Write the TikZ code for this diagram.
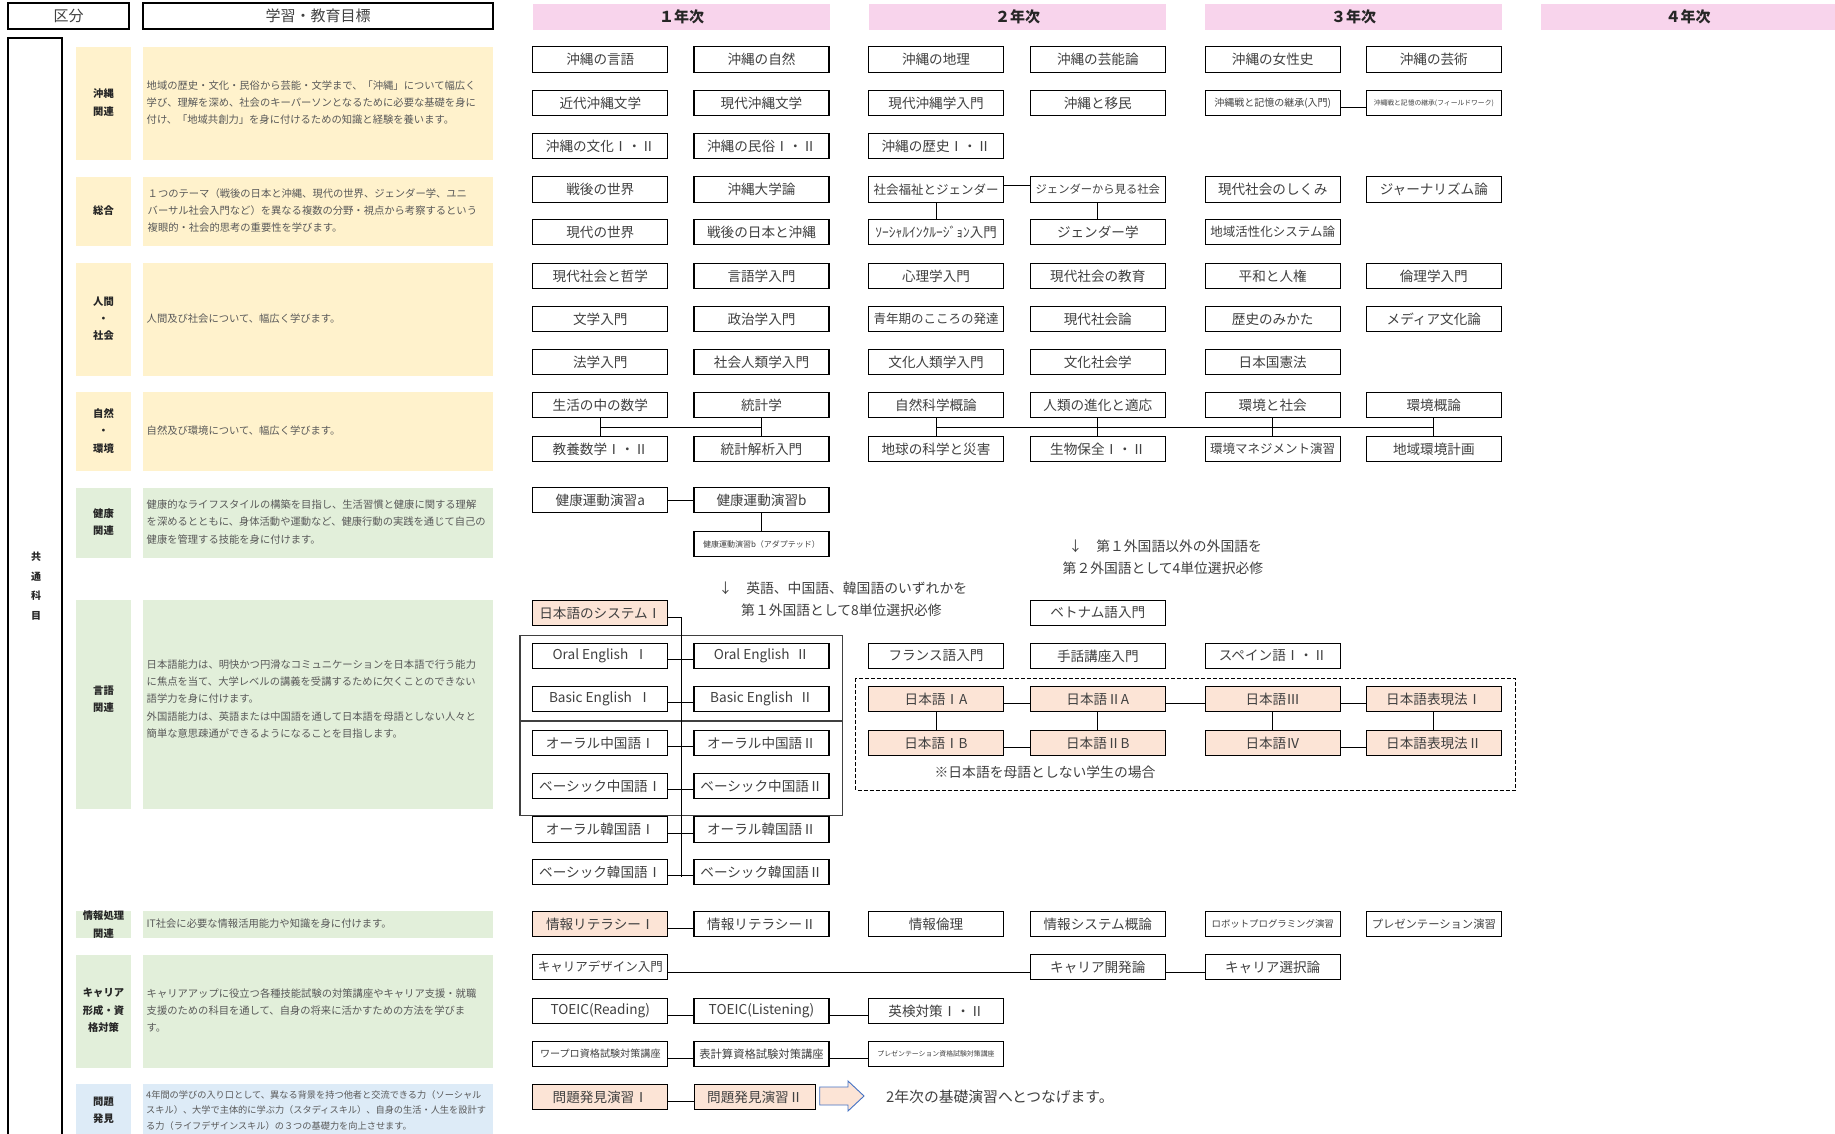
\documentclass[tikz,border=0pt]{standalone}
\usepackage{fontspec}
\setmainfont{Noto Sans CJK JP}
\usetikzlibrary{calc}
\definecolor{yel}{HTML}{FFF2CC}
\definecolor{grn}{HTML}{E2EFDA}
\definecolor{blu}{HTML}{DDEBF7}
\definecolor{pch}{HTML}{FCE4D6}
\definecolor{pnk}{RGB}{248,212,236}
\definecolor{txt}{HTML}{404040}
\definecolor{dtxt}{HTML}{595959}
\definecolor{lbl}{HTML}{262626}
\definecolor{arb}{HTML}{4472C4}
\begin{document}
\begin{tikzpicture}[x=1pt,y=-1pt,
  cb/.style={draw=black, line width=1.1pt, minimum width=135pt, minimum height=25.5pt, inner sep=0pt, text=txt, font=\fontsize{13.6}{15}\selectfont},
  fs/.style={font=\fontsize{#1}{#1}\selectfont},
  pc/.style={fill=pch},
  lk/.style={draw=black, line width=0.9pt},
  lab/.style={align=center, inner sep=0pt, text=lbl, font=\bfseries\fontsize{10.3}{17.3}\selectfont},
  desc/.style={anchor=west, align=left, inner sep=0pt, text=dtxt, font=\fontsize{10.3}{17.3}\selectfont},
  yr/.style={fill=pnk, minimum height=25.5pt, inner sep=0pt, text=lbl, font=\bfseries\fontsize{15}{15}\selectfont},
  hd/.style={draw=black, line width=1.1pt, inner sep=0pt, minimum height=26pt, text=txt, font=\fontsize{15}{15}\selectfont},
  note/.style={anchor=west, inner sep=0pt, text=txt, font=\fontsize{13.8}{14}\selectfont}
]
\def\colA{600.3}\def\colB{761.5}\def\colC{936}\def\colD{1097.8}\def\colE{1272.7}\def\colF{1433.8}
\useasboundingbox (0,0) rectangle (1835,1133);
\fill[white] (0,0) rectangle (1835,1133);
\begin{scope}
\clip (0,0) rectangle (1835,1133);
% headers
\node[hd, minimum width=121pt] (hk) at (68.5,16) {区分};
\node[hd, minimum width=350pt] (hg) at (318,16) {学習・教育目標};
\node[yr, minimum width=297pt] (y1) at (681.5,16.8) {１年次};
\node[yr, minimum width=297pt] (y2) at (1017.5,16.8) {２年次};
\node[yr, minimum width=297pt] (y3) at (1353.5,16.8) {３年次};
\node[yr, minimum width=294pt] (y4) at (1688,16.8) {４年次};
% left frame
\draw[line width=1.2pt] (8,38) rectangle (62,1145);
\node[lab, font=\bfseries\fontsize{10}{19.5}\selectfont] (kyo) at (36,586) {共\\通\\科\\目};
% category fills
\fill[yel] (76,47) rectangle (131,160);   \fill[yel] (143,47) rectangle (493,160);
\fill[yel] (76,177) rectangle (131,246);  \fill[yel] (143,177) rectangle (493,246);
\fill[yel] (76,263) rectangle (131,376);  \fill[yel] (143,263) rectangle (493,376);
\fill[yel] (76,392) rectangle (131,471);  \fill[yel] (143,392) rectangle (493,471);
\fill[grn] (76,488) rectangle (131,558);  \fill[grn] (143,488) rectangle (493,558);
\fill[grn] (76,600) rectangle (131,809);  \fill[grn] (143,600) rectangle (493,809);
\fill[grn] (76,911) rectangle (131,938);  \fill[grn] (143,911) rectangle (493,938);
\fill[grn] (76,955) rectangle (131,1068); \fill[grn] (143,955) rectangle (493,1068);
\fill[blu] (76,1084) rectangle (131,1145); \fill[blu] (143,1084) rectangle (493,1145);
% category labels
\node[lab] (l1) at (103.5,102.5) {沖縄\\関連};
\node[lab] (l2) at (103.5,211) {総合};
\node[lab] (l3) at (103.5,318.7) {人間\\・\\社会};
\node[lab] (l4) at (103.5,431) {自然\\・\\環境};
\node[lab] (l5) at (103.5,522) {健康\\関連};
\node[lab] (l6) at (103.5,699.5) {言語\\関連};
\node[lab] (l7) at (103.5,924.5) {情報処理\\関連};
\node[lab] (l8) at (103.5,1010.5) {キャリア\\形成・資\\格対策};
\node[lab] (l9) at (103.5,1110) {問題\\発見};
% descriptions
\node[desc] (d1) at (146.5,102.7) {地域の歴史・文化・民俗から芸能・文学まで、「沖縄」について幅広く\\学び、理解を深め、社会のキーパーソンとなるために必要な基礎を身に\\付け、「地域共創力」を身に付けるための知識と経験を養います。};
\node[desc] (d2) at (147.5,210.7) {１つのテーマ（戦後の日本と沖縄、現代の世界、ジェンダー学、ユニ\\バーサル社会入門など）を異なる複数の分野・視点から考察するという\\複眼的・社会的思考の重要性を学びます。};
\node[desc] (d3) at (146.5,318.5) {人間及び社会について、幅広く学びます。};
\node[desc] (d4) at (146.5,431) {自然及び環境について、幅広く学びます。};
\node[desc] (d5) at (146.5,522) {健康的なライフスタイルの構築を目指し、生活習慣と健康に関する理解\\を深めるとともに、身体活動や運動など、健康行動の実践を通じて自己の\\健康を管理する技能を身に付けます。};
\node[desc] (d6) at (146.5,699) {日本語能力は、明快かつ円滑なコミュニケーションを日本語で行う能力\\に焦点を当て、大学レベルの講義を受講するために欠くことのできない\\語学力を身に付けます。\\外国語能力は、英語または中国語を通して日本語を母語としない人々と\\簡単な意思疎通ができるようになることを目指します。};
\node[desc] (d7) at (146.5,924) {IT社会に必要な情報活用能力や知識を身に付けます。};
\node[desc] (d8) at (146.5,1010.5) {キャリアアップに役立つ各種技能試験の対策講座やキャリア支援・就職\\支援のための科目を通して、自身の将来に活かすための方法を学びま\\す。};
\node[desc, font=\fontsize{9.2}{15.5}\selectfont] (d9) at (146,1110) {4年間の学びの入り口として、異なる背景を持つ他者と交流できる力（ソーシャル\\スキル）、大学で主体的に学ぶ力（スタディスキル）、自身の生活・人生を設計す\\る力（ライフデザインスキル）の３つの基礎力を向上させます。};
% row 1
\node[cb] (a1) at (\colA,59.5) {沖縄の言語};
\node[cb] (a2) at (\colB,59.5) {沖縄の自然};
\node[cb] (a3) at (\colC,59.5) {沖縄の地理};
\node[cb] (a4) at (\colD,59.5) {沖縄の芸能論};
\node[cb] (a5) at (\colE,59.5) {沖縄の女性史};
\node[cb] (a6) at (\colF,59.5) {沖縄の芸術};
% row 2
\node[cb] (b1) at (\colA,103) {近代沖縄文学};
\node[cb] (b2) at (\colB,103) {現代沖縄文学};
\node[cb] (b3) at (\colC,103) {現代沖縄学入門};
\node[cb] (b4) at (\colD,103) {沖縄と移民};
\node[cb, fs=10] (b5) at (\colE,103) {沖縄戦と記憶の継承(入門)};
\node[cb, fs=6.8] (b6) at (\colF,103) {沖縄戦と記憶の継承(フィールドワーク)};
% row 3
\node[cb] (c1) at (\colA,146) {沖縄の文化Ⅰ・Ⅱ};
\node[cb] (c2) at (\colB,146) {沖縄の民俗Ⅰ・Ⅱ};
\node[cb] (c3) at (\colC,146) {沖縄の歴史Ⅰ・Ⅱ};
% row 4
\node[cb] (g1) at (\colA,189.3) {戦後の世界};
\node[cb] (g2) at (\colB,189.3) {沖縄大学論};
\node[cb, fs=12.5] (g3) at (\colC,189.3) {社会福祉とジェンダー};
\node[cb, fs=11.3] (g4) at (\colD,189.3) {ジェンダーから見る社会};
\node[cb] (g5) at (\colE,189.3) {現代社会のしくみ};
\node[cb] (g6) at (\colF,189.3) {ジャーナリズム論};
% row 5
\node[cb] (h1) at (\colA,232) {現代の世界};
\node[cb] (h2) at (\colB,232) {戦後の日本と沖縄};
\node[cb, fs=13.5] (h3) at (\colC,232) {ｿｰｼｬﾙｲﾝｸﾙｰｼﾞｮﾝ入門};
\node[cb] (h4) at (\colD,232) {ジェンダー学};
\node[cb, fs=12.5] (h5) at (\colE,232) {地域活性化システム論};
% row 6
\node[cb] (i1) at (\colA,276) {現代社会と哲学};
\node[cb] (i2) at (\colB,276) {言語学入門};
\node[cb] (i3) at (\colC,276) {心理学入門};
\node[cb] (i4) at (\colD,276) {現代社会の教育};
\node[cb] (i5) at (\colE,276) {平和と人権};
\node[cb] (i6) at (\colF,276) {倫理学入門};
% row 7
\node[cb] (j1) at (\colA,319) {文学入門};
\node[cb] (j2) at (\colB,319) {政治学入門};
\node[cb, fs=12.5] (j3) at (\colC,319) {青年期のこころの発達};
\node[cb] (j4) at (\colD,319) {現代社会論};
\node[cb] (j5) at (\colE,319) {歴史のみかた};
\node[cb] (j6) at (\colF,319) {メディア文化論};
% row 8
\node[cb] (k1) at (\colA,362) {法学入門};
\node[cb] (k2) at (\colB,362) {社会人類学入門};
\node[cb] (k3) at (\colC,362) {文化人類学入門};
\node[cb] (k4) at (\colD,362) {文化社会学};
\node[cb] (k5) at (\colE,362) {日本国憲法};
% row 9
\node[cb] (n1) at (\colA,405) {生活の中の数学};
\node[cb] (n2) at (\colB,405) {統計学};
\node[cb] (n3) at (\colC,405) {自然科学概論};
\node[cb] (n4) at (\colD,405) {人類の進化と適応};
\node[cb] (n5) at (\colE,405) {環境と社会};
\node[cb] (n6) at (\colF,405) {環境概論};
% row 10
\node[cb] (m1) at (\colA,449) {教養数学Ⅰ・Ⅱ};
\node[cb] (m2) at (\colB,449) {統計解析入門};
\node[cb] (m3) at (\colC,449) {地球の科学と災害};
\node[cb] (m4) at (\colD,449) {生物保全Ⅰ・Ⅱ};
\node[cb, fs=12.5] (m5) at (\colE,449) {環境マネジメント演習};
\node[cb] (m6) at (\colF,449) {地域環境計画};
% health
\node[cb] (ha) at (\colA,500) {健康運動演習a};
\node[cb] (hb) at (\colB,500) {健康運動演習b};
\node[cb, fs=8] (hc) at (\colB,544) {健康運動演習b（アダプテッド）};
% notes
\node[note] (t1) at (1068.5,546) {↓　第１外国語以外の外国語を};
\node[note] (t2) at (1062.5,568) {第２外国語として4単位選択必修};
\node[note] (t3) at (718.5,588.5) {↓　英語、中国語、韓国語のいずれかを};
\node[note] (t4) at (741,610.5) {第１外国語として8単位選択必修};
% language
\node[cb, pc] (js) at (\colA,613) {日本語のシステムⅠ};
\node[cb] (vt) at (\colD,613) {ベトナム語入門};
\node[cb] (oe1) at (\colA,656) {Oral English\ \ Ⅰ};
\node[cb] (oe2) at (\colB,656) {Oral English\ \ Ⅱ};
\node[cb] (fr) at (\colC,656) {フランス語入門};
\node[cb] (sl) at (\colD,656) {手話講座入門};
\node[cb] (sp) at (\colE,656) {スペイン語Ⅰ・Ⅱ};
\node[cb] (be1) at (\colA,699) {Basic English\ \ Ⅰ};
\node[cb] (be2) at (\colB,699) {Basic English\ \ Ⅱ};
\node[cb, pc] (ja1) at (\colC,699) {日本語ⅠA};
\node[cb, pc] (ja2) at (\colD,699) {日本語ⅡA};
\node[cb, pc] (ja3) at (\colE,699) {日本語Ⅲ};
\node[cb, pc] (jh1) at (\colF,699) {日本語表現法Ⅰ};
\node[cb] (oc1) at (\colA,743) {オーラル中国語Ⅰ};
\node[cb] (oc2) at (\colB,743) {オーラル中国語Ⅱ};
\node[cb, pc] (jb1) at (\colC,743) {日本語ⅠB};
\node[cb, pc] (jb2) at (\colD,743) {日本語ⅡB};
\node[cb, pc] (ja4) at (\colE,743) {日本語Ⅳ};
\node[cb, pc] (jh2) at (\colF,743) {日本語表現法Ⅱ};
\node[cb] (bc1) at (\colA,786) {ベーシック中国語Ⅰ};
\node[cb] (bc2) at (\colB,786) {ベーシック中国語Ⅱ};
\node[cb] (ok1) at (\colA,829.5) {オーラル韓国語Ⅰ};
\node[cb] (ok2) at (\colB,829.5) {オーラル韓国語Ⅱ};
\node[cb] (bk1) at (\colA,872) {ベーシック韓国語Ⅰ};
\node[cb] (bk2) at (\colB,872) {ベーシック韓国語Ⅱ};
\node[note, anchor=center] (t5) at (1045,772) {※日本語を母語としない学生の場合};
% frames
\draw[line width=1.1pt, draw=txt] (520,635.5) rectangle (842.7,815.7);
\draw[line width=1.1pt, draw=txt] (520,721) -- (842.7,721);
\draw[line width=0.9pt, dash pattern=on 4pt off 2pt] (855.5,678) rectangle (1515,790);
% info / career / etc
\node[cb, pc] (il1) at (\colA,924) {情報リテラシーⅠ};
\node[cb] (il2) at (\colB,924) {情報リテラシーⅡ};
\node[cb] (ie) at (\colC,924) {情報倫理};
\node[cb] (is) at (\colD,924) {情報システム概論};
\node[cb, fs=9.4] (rb) at (\colE,924) {ロボットプログラミング演習};
\node[cb, fs=11.3] (pz) at (\colF,924) {プレゼンテーション演習};
\node[cb, fs=12.5] (cd) at (\colA,967) {キャリアデザイン入門};
\node[cb] (cv) at (\colD,967) {キャリア開発論};
\node[cb] (cs) at (\colE,967) {キャリア選択論};
\node[cb] (tr) at (\colA,1011) {TOEIC(Reading)};
\node[cb] (tl) at (\colB,1011) {TOEIC(Listening)};
\node[cb] (ek) at (\colC,1011) {英検対策Ⅰ・Ⅱ};
\node[cb, fs=10.1] (wp) at (\colA,1054) {ワープロ資格試験対策講座};
\node[cb, fs=11.3] (hk2) at (\colB,1054) {表計算資格試験対策講座};
\node[cb, fs=6.9] (pq) at (\colC,1054) {プレゼンテーション資格試験対策講座};
\node[cb, pc] (mh1) at (\colA,1097) {問題発見演習Ⅰ};
\node[cb, pc, minimum width=121.5pt] (mh2) at (754.8,1097) {問題発見演習Ⅱ};
\draw[draw=arb, fill=pch, line width=0.9pt] (819.7,1087) -- (848,1087) -- (848,1081) -- (864,1096) -- (848,1111) -- (848,1105) -- (819.7,1105) -- cycle;
\node[note, font=\fontsize{14.8}{15}\selectfont] (t6) at (886,1097) {2年次の基礎演習へとつなげます。};
% connectors
\draw[lk] (n1.south) -- (m1.north);
\draw[lk] (n2.south) -- (m2.north);
\draw[lk] ($(n1.south)!.5!(m1.north)$) -- ($(n2.south)!.5!(m2.north)$);
\draw[lk] (n3.south) -- (m3.north);
\draw[lk] (n4.south) -- (m4.north);
\draw[lk] (n5.south) -- (m5.north);
\draw[lk] (n6.south) -- (m6.north);
\draw[lk] ($(n3.south)!.5!(m3.north)$) -- ($(n6.south)!.5!(m6.north)$);
\draw[lk] ([yshift=4pt]g3.east) -- ([yshift=4pt]g4.west);
\draw[lk] (g3.south) -- (h3.north);
\draw[lk] (g4.south) -- (h4.north);
\draw[lk] ([yshift=-4pt]b5.east) -- ([yshift=-4pt]b6.west);
\draw[lk] (ha.east) -- (hb.west);
\draw[lk] (hb.south) -- (hc.north);
\draw[lk] ([yshift=-4pt]js.east) -| (681.3,877);
\foreach \p/\q in {oe1/oe2, be1/be2, oc1/oc2, bc1/bc2, ok1/ok2, bk1/bk2}
  \draw[lk] ([yshift=-3.5pt]\p.east) -- ([yshift=-3.5pt]\q.west);
\foreach \p/\q in {ja1/ja2, ja2/ja3, ja3/jh1, jb1/jb2, ja4/jh2, il1/il2, tr/tl, tl/ek, wp/hk2, hk2/pq, mh1/mh2}
  \draw[lk] ([yshift=-4pt]\p.east) -- ([yshift=-4pt]\q.west);
\draw[lk] (ja1.south) -- (jb1.north);
\draw[lk] (ja2.south) -- (jb2.north);
\draw[lk] (ja3.south) -- (ja4.north);
\draw[lk] (jh1.south) -- (jh2.north);
\draw[lk] ([yshift=-5pt]cd.east) -- ([yshift=-5pt]cv.west);
\draw[lk] ([yshift=-5pt]cv.east) -- ([yshift=-5pt]cs.west);
\end{scope}
\end{tikzpicture}
\end{document}
